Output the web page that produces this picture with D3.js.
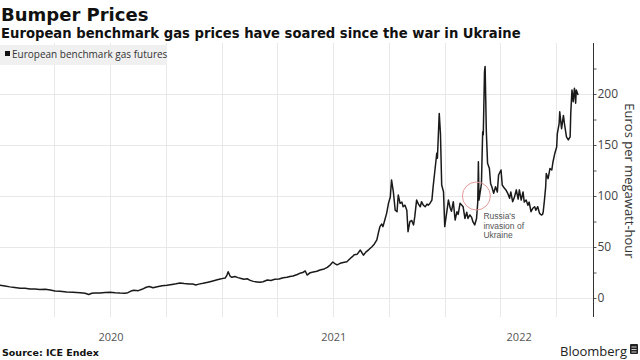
<!DOCTYPE html>
<html><head><meta charset="utf-8">
<script src="https://cdn.jsdelivr.net/npm/d3@7"></script>
<style>
html,body{margin:0;padding:0;background:#fff;}
svg{display:block;}
</style></head>
<body><svg id="c" width="640" height="360"></svg>
<script>
// ---------- data ----------
const title = "Bumper Prices";
const subtitle = "European benchmark gas prices have soared since the war in Ukraine";
const seriesName = "European benchmark gas futures";
const yTitle = "Euros per megawatt-hour";
const source = "Source: ICE Endex";
const yearLabels = ["2020", "2021", "2022"];
const yTickValues = [0, 50, 100, 150, 200];
const annotationLines = ["Russia's", "invasion of", "Ukraine"];
const annotationDate = "2022-02-24";

const dates = [
"2020-01-03","2020-01-12","2020-01-20","2020-01-28","2020-02-06","2020-02-14","2020-02-22","2020-03-01","2020-03-09","2020-03-18",
"2020-03-26","2020-04-03","2020-04-11","2020-04-22","2020-05-02","2020-05-14","2020-05-22","2020-05-28","2020-06-02","2020-06-07",
"2020-06-15","2020-06-24","2020-07-02","2020-07-10","2020-07-18","2020-07-26","2020-07-31","2020-08-05","2020-08-10","2020-08-17",
"2020-08-23","2020-08-30","2020-09-04","2020-09-10","2020-09-17","2020-09-25","2020-10-03","2020-10-11","2020-10-18","2020-10-24",
"2020-10-31","2020-11-08","2020-11-14","2020-11-19","2020-11-24","2020-12-01","2020-12-09","2020-12-17","2020-12-24","2020-12-29",
"2021-01-01","2021-01-06","2021-01-09","2021-01-11","2021-01-14","2021-01-17","2021-01-22","2021-01-27","2021-02-01","2021-02-06",
"2021-02-11","2021-02-16","2021-02-21","2021-02-27","2021-03-04","2021-03-09","2021-03-16","2021-03-22","2021-03-28","2021-04-04",
"2021-04-11","2021-04-17","2021-04-22","2021-04-27","2021-05-04","2021-05-08","2021-05-13","2021-05-17","2021-05-20","2021-05-25",
"2021-05-30","2021-06-05","2021-06-10","2021-06-17","2021-06-22","2021-06-27","2021-07-01","2021-07-05","2021-07-08","2021-07-13",
"2021-07-18","2021-07-24","2021-07-29","2021-08-02","2021-08-05","2021-08-10","2021-08-15","2021-08-18","2021-08-20","2021-08-24",
"2021-08-29","2021-09-03","2021-09-07","2021-09-11","2021-09-14","2021-09-16","2021-09-19","2021-09-21","2021-09-24","2021-09-27",
"2021-09-30","2021-10-03","2021-10-05","2021-10-08","2021-10-11","2021-10-14","2021-10-16","2021-10-19","2021-10-22","2021-10-24",
"2021-10-27","2021-10-30","2021-11-01","2021-11-04","2021-11-07","2021-11-10","2021-11-12","2021-11-15","2021-11-18","2021-11-21",
"2021-11-23","2021-11-26","2021-11-29","2021-12-02","2021-12-04","2021-12-07","2021-12-10","2021-12-12","2021-12-15","2021-12-18",
"2021-12-19","2021-12-22","2021-12-24","2021-12-26","2021-12-29","2021-12-31","2022-01-06","2022-01-09","2022-01-11","2022-01-14",
"2022-01-17","2022-01-20","2022-01-22","2022-01-25","2022-01-28","2022-01-30","2022-02-02","2022-02-05","2022-02-07","2022-02-10",
"2022-02-13","2022-02-15","2022-02-18","2022-02-21","2022-02-23","2022-02-24","2022-02-25","2022-03-01","2022-03-03","2022-03-04",
"2022-03-06","2022-03-07","2022-03-09","2022-03-11","2022-03-14","2022-03-16","2022-03-18","2022-03-21","2022-03-24","2022-03-27",
"2022-03-29","2022-04-02","2022-04-04","2022-04-07","2022-04-10","2022-04-13","2022-04-16","2022-04-18","2022-04-21","2022-04-24",
"2022-04-27","2022-04-30","2022-05-02","2022-05-05","2022-05-08","2022-05-10","2022-05-13","2022-05-16","2022-05-18","2022-05-21",
"2022-05-24","2022-05-27","2022-05-29","2022-06-01","2022-06-04","2022-06-07","2022-06-09","2022-06-10","2022-06-12","2022-06-14",
"2022-06-15","2022-06-18","2022-06-21","2022-06-24","2022-06-26","2022-06-29","2022-07-02","2022-07-03","2022-07-06","2022-07-07",
"2022-07-10","2022-07-13","2022-07-15","2022-07-18","2022-07-21","2022-07-24","2022-07-25","2022-07-27","2022-07-29","2022-07-31",
"2022-08-02","2022-08-03","2022-08-06"
];
const prices = [
12.7,11.8,10.9,10.2,9.5,9.6,8.8,8.9,8.4,8.6,
7.8,6.9,6.5,5.9,5.6,5.2,4.6,3.4,4.6,4.9,
5.0,5.4,5.6,5.1,4.8,4.7,5.2,6.8,7.6,7.2,
8.5,10.5,11.2,10.0,11.0,12.0,12.4,13.3,14.0,14.7,
14.2,13.8,13.7,12.8,13.6,14.4,15.5,16.7,17.8,18.6,
19.0,19.5,22.5,25.8,21.5,20.3,21.0,20.0,19.2,18.4,
18.9,17.3,16.3,15.8,15.4,16.0,17.6,17.2,18.3,18.6,
19.8,20.3,21.0,21.5,23.0,24.2,25.0,26.5,22.5,24.8,
25.5,26.2,27.5,28.5,30.0,32.5,35.3,33.5,32.4,34.0,
34.8,35.6,38.5,40.5,42.5,43.0,47.0,44.0,42.0,45.0,
47.5,50.3,53.0,57.0,65.0,70.0,72.5,70.0,76.5,83.0,
92.8,99.0,115.7,104.0,86.0,84.6,101.0,92.8,94.0,89.5,
91.0,86.0,65.0,74.8,76.0,71.6,79.7,96.0,92.0,89.5,
94.4,91.0,89.5,92.0,91.0,93.0,96.0,109.0,125.5,142.0,
137.0,181.0,161.0,110.8,104.0,70.0,96.0,88.0,85.0,94.4,
76.5,84.6,82.0,92.8,91.0,89.5,78.0,84.0,78.0,81.4,
79.0,74.8,71.6,78.0,94.4,133.6,96.0,112.0,163.0,160.0,
222.0,227.0,163.0,132.0,127.0,112.0,109.0,102.6,109.0,104.0,
120.6,125.5,110.8,108.0,106.0,102.6,97.7,104.0,94.4,99.0,
106.0,97.0,106.0,96.0,104.0,94.0,96.0,91.0,94.0,84.6,
88.0,89.5,86.0,89.5,83.0,81.4,82.0,84.6,96.0,109.0,
122.0,117.0,127.0,125.5,133.6,142.0,148.0,161.0,171.0,182.6,
166.0,179.0,169.6,158.0,155.0,158.0,181.0,204.0,192.5,205.6,
191.0,204.0,199.0
];

// ---------- layout ----------
const svg = d3.select("#c");
const parse = d3.timeParse("%Y-%m-%d");
const data = dates.map((d, i) => ({date: parse(d), value: prices[i]}));

const axisX = 593;
const x = d3.scaleTime()
  .domain([parse("2020-01-01"), parse("2022-09-01")])
  .range([-1.8, axisX + 1]);
const y = d3.scaleLinear().domain([0, 250]).range([298, 43]);
const plotTop = 43, plotBottom = 317;

// horizontal gridlines
svg.append("g").selectAll("line").data(yTickValues).join("line")
  .attr("x1", 0).attr("x2", axisX)
  .attr("y1", d => Math.round(y(d)) + 0.5).attr("y2", d => Math.round(y(d)) + 0.5)
  .attr("stroke", "#e8e8e8").attr("stroke-width", 1);

// vertical quarterly gridlines
const quarters = x.ticks(d3.timeMonth.every(3)).filter(d => x(d) > 2 && x(d) < axisX - 2);
svg.append("g").selectAll("line").data(quarters).join("line")
  .attr("x1", d => Math.round(x(d)) + 0.5).attr("x2", d => Math.round(x(d)) + 0.5)
  .attr("y1", plotTop).attr("y2", plotBottom)
  .attr("stroke", "#e8e8e8").attr("stroke-width", 1);

// legend box
svg.append("rect").attr("x", 0).attr("y", 45).attr("width", 167).attr("height", 20).attr("fill", "#f0f0f0");
svg.append("rect").attr("x", 5).attr("y", 51).attr("width", 5).attr("height", 5).attr("fill", "#111");
svg.append("text").attr("x", 12).attr("y", 58).text(seriesName)
  .attr("font-family", "Open Sans").attr("font-size", 10).attr("fill", "#333");

// y axis
const yAxis = d3.axisRight(y).tickValues(d3.range(0, 250, 25)).tickSize(3)
  .tickFormat(d => yTickValues.includes(d) ? d : "");
const ga = svg.append("g").attr("transform", `translate(${axisX + 0.5},0)`).call(yAxis);
ga.select(".domain").remove();
ga.selectAll("line").attr("stroke", "#555");
ga.selectAll("text").attr("font-family", "Open Sans").attr("font-size", 12).attr("fill", "#444").attr("x", 4);
svg.append("line").attr("x1", axisX + 0.5).attr("x2", axisX + 0.5).attr("y1", plotTop).attr("y2", plotBottom)
  .attr("stroke", "#333").attr("stroke-width", 1);

// y title
svg.append("text").attr("transform", `translate(625,181) rotate(90)`)
  .attr("text-anchor", "middle").attr("font-family", "Open Sans").attr("font-size", 13).attr("fill", "#333")
  .text(yTitle);

// year labels centered on visible part of each year
const xMin = 0;
svg.append("g").selectAll("text").data(yearLabels).join("text")
  .attr("x", d => {
    const a = Math.max(x(parse(d + "-01-01")), xMin);
    const b = Math.min(x(parse((+d + 1) + "-01-01")), axisX);
    return (a + b) / 2;
  })
  .attr("y", 341).attr("text-anchor", "middle")
  .attr("font-family", "Open Sans").attr("font-size", 11).attr("fill", "#555")
  .text(d => d);

// line
const line = d3.line().x(d => x(d.date)).y(d => y(d.value)).curve(d3.curveLinear);
svg.append("path").datum(data).attr("d", line)
  .attr("fill", "none").attr("stroke", "#1a1a1a").attr("stroke-width", 1.5).attr("stroke-linejoin", "round");

// annotation
const ad = parse(annotationDate);
svg.append("circle").attr("cx", x(ad) - 2).attr("cy", y(100)).attr("r", 14)
  .attr("fill", "none").attr("stroke", "#e39a9a").attr("stroke-width", 1);
svg.append("g").selectAll("text").data(annotationLines).join("text")
  .attr("x", x(ad) + 5).attr("y", (d, i) => 219 + i * 9.5)
  .attr("font-family", "Liberation Sans").attr("font-size", 8.5).attr("fill", "#555")
  .text(d => d);

// titles
svg.append("text").attr("x", 1).attr("y", 21).text(title)
  .attr("font-family", "DejaVu Sans").attr("font-weight", "bold").attr("font-size", 18).attr("fill", "#111");
svg.append("text").attr("x", 1).attr("y", 38).text(subtitle)
  .attr("font-family", "DejaVu Sans").attr("font-weight", "bold").attr("font-size", 13.2).attr("fill", "#111");

// footer
svg.append("text").attr("x", 2).attr("y", 356).text(source)
  .attr("font-family", "DejaVu Sans").attr("font-weight", "bold").attr("font-size", 9.5).attr("fill", "#111");
svg.append("text").attr("x", 627).attr("y", 356).attr("text-anchor", "end").text("Bloomberg")
  .attr("font-family", "Open Sans").attr("font-size", 13).attr("fill", "#222");
svg.append("rect").attr("x", 630).attr("y", 344).attr("width", 8).attr("height", 10).attr("rx", 1).attr("fill", "#222");
svg.append("path").attr("d", "M631.5,347 h5 M631.5,349.5 h5 M631.5,352 h5").attr("stroke", "#fff").attr("stroke-width", 0.8);
</script></body></html>
